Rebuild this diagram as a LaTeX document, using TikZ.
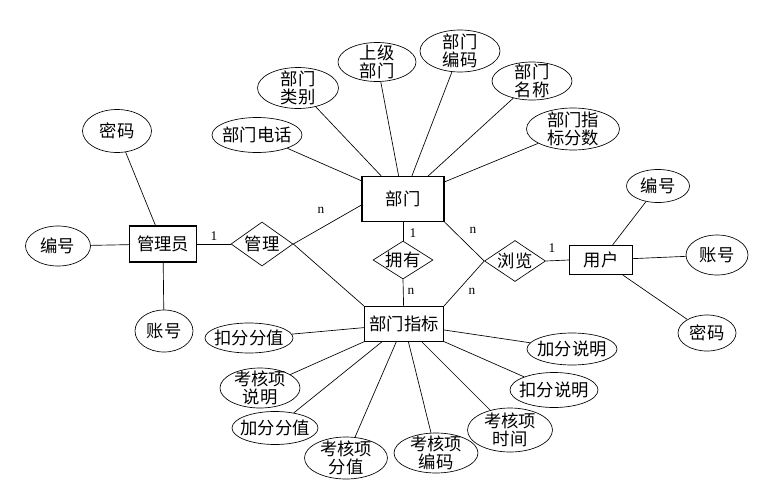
\documentclass[tikz,border=0pt]{standalone}
\usepackage{fontspec}
\setmainfont{Liberation Serif}
\newfontfamily\cjk{Noto Sans CJK SC}
\usetikzlibrary{shapes.geometric}
\tikzset{
  cjktext/.style={inner sep=0pt, align=center, font=\cjk\fontsize{13}{14}\selectfont},
  attr/.style n args={3}{ellipse, draw, inner sep=0pt,
    minimum width=#1*0.75pt, minimum height=#2*0.75pt, label={[cjktext]center:#3}},
  ent/.style 2 args={rectangle, draw, line width=0.8pt, inner sep=0pt,
    minimum width=#1*0.75pt, minimum height=#2*0.75pt, font=\cjk\fontsize{13}{14}\selectfont},
  rel/.style n args={3}{diamond, draw, inner sep=0pt, aspect=1.4,
    minimum width=#1*0.75pt, minimum height=#2*0.75pt, label={[cjktext]center:#3}},
  card/.style={inner sep=0pt, font=\fontsize{10}{12}\selectfont},
  link/.style={line width=0.5pt}
}
\begin{document}
\begin{tikzpicture}[x=0.75pt,y=-0.75pt, line width=0.5pt]
\useasboundingbox (0,0) rectangle (757,500);
% entities
\node[ent={82}{45}] (bm) at (403,199) {部门};
\node[ent={79}{35}] (zb) at (404,324) {部门指标};
\node[ent={67}{36}] (gly) at (163,244) {管理员};
\node[ent={63}{29}] (yh) at (601,260) {用户};
% relationships
\node[rel={62}{44}{管理}] (gl) at (262,244) {};
\node[rel={60}{38}{拥有}] (yy) at (403,260) {};
\node[rel={61}{41}{浏览}] (ll) at (515,261) {};
% admin attributes
\node[attr={69}{43}{密码}] (admm) at (117,131) {};
\node[attr={65}{40}{编号}] (adbh) at (58,246) {};
\node[attr={58}{42}{账号}] (adzh) at (164,331) {};
% dept attributes
\node[attr={90}{35}{部门电话}] (bmdh) at (257,135) {};
\node[attr={81}{41}{部门\\类别}] (bmlb) at (298,88) {};
\node[attr={78}{39}{上级\\部门}] (bmsj) at (377,62) {};
\node[attr={80}{42}{部门\\编码}] (bmbm) at (460,51) {};
\node[attr={80}{38}{部门\\名称}] (bmmc) at (532,81) {};
\node[attr={93}{42}{部门指\\标分数}] (bmfs) at (573,129) {};
% user attributes
\node[attr={63}{33}{编号}] (yhbh) at (658,186) {};
\node[attr={62}{40}{账号}] (yhzh) at (717,255) {};
\node[attr={58}{36}{密码}] (yhmm) at (707,333) {};
% index attributes
\node[attr={90}{32}{加分说明}] (jfsm) at (572,349) {};
\node[attr={88}{35}{扣分说明}] (kfsm) at (554,390) {};
\node[attr={85}{44}{考核项\\时间}] (khsj) at (510,430) {};
\node[attr={84}{40}{考核项\\编码}] (khbm) at (436,453) {};
\node[attr={83}{42}{考核项\\分值}] (khfz) at (346,458) {};
\node[attr={86}{33}{加分分值}] (jffz) at (275,428) {};
\node[attr={80}{40}{考核项\\说明}] (khsm) at (260,388) {};
\node[attr={88}{30}{扣分分值}] (kffz) at (249,338) {};
% relationship lines
\draw[link] (gly) -- (gl.west);
\draw[link] (gl.east) -- (bm.west |- 0,205);
\draw[link] (gl.east) -- (zb.north west);
\draw[link] (bm) -- (yy.north);
\draw[link] (yy.south) -- (zb);
\draw[link] (bm.south east) -- (ll.west);
\draw[link] (ll.west) -- (zb.north east);
\draw[link] (ll.east) -- (yh.west);
% attribute lines
\foreach \a in {admm,adbh,adzh} \draw[link] (\a) -- (gly);
\foreach \a in {bmdh,bmlb,bmsj,bmbm,bmmc,bmfs} \draw[link] (\a) -- (bm);
\foreach \a in {yhbh,yhzh,yhmm} \draw[link] (\a) -- (yh);
\foreach \a in {jfsm,kfsm,khsj,khbm,khfz,jffz,khsm,kffz} \draw[link] (\a) -- (zb);
% cardinalities
\node[card] (c1) at (214,236) {1};
\node[card] (c2) at (321,210) {n};
\node[card] (c3) at (413,233) {1};
\node[card] (c4) at (411,291) {n};
\node[card] (c5) at (473,230) {n};
\node[card] (c6) at (472,291) {n};
\node[card] (c7) at (552,248) {1};
\end{tikzpicture}
\end{document}
